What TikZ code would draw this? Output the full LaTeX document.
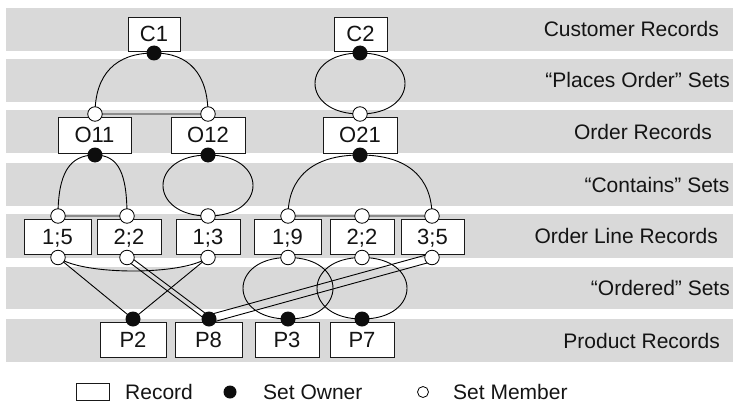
\documentclass[tikz,border=0pt]{standalone}
\usepackage{fontspec}
\setmainfont{Liberation Sans}
\usetikzlibrary{calc}
\pgfdeclarelayer{bands}
\pgfdeclarelayer{links}
\pgfsetlayers{bands,links,main}

\begin{document}
\begin{tikzpicture}[x=1pt,y=-1pt,
  band/.style={fill=black!15},
  record/.style={draw=black!90, fill=white, line width=0.9pt, inner sep=0pt,
    text height=15.5pt, text depth=0pt, text=black!92,
    font=\fontsize{22}{25}\selectfont},
  owner/.style={circle, fill=black!95, inner sep=0pt, minimum size=15pt},
  member/.style={circle, draw=black, fill=white, line width=0.8pt, inner sep=0pt, minimum size=14.5pt},
  link/.style={line width=0.9pt},
  tier/.style={anchor=base east, inner sep=0pt, text=black!92,
    font=\fontsize{21}{24}\selectfont},
  legendtext/.style={anchor=base west, inner sep=0pt, text=black!92,
    font=\fontsize{21}{24}\selectfont},
  ]
\useasboundingbox (0,0) rectangle (733,404);

% grey bands, one per tier
\begin{pgfonlayer}{bands}
  \foreach \t/\b in {8/51,59/102,110/153,163/206,214/258,267/309,319/362}
    \fill[band] (6,\t) rectangle (733,\b);
\end{pgfonlayer}

% tier labels
\node[tier] (t1) at (719,37) {Customer Records};
\node[tier] (t2) at (730,88) {“Places Order” Sets};
\node[tier] (t3) at (712,139) {Order Records};
\node[tier] (t4) at (729.5,192) {“Contains” Sets};
\node[tier] (t5) at (718,243.5) {Order Line Records};
\node[tier] (t6) at (730,295.5) {“Ordered” Sets};
\node[tier] (t7) at (720,348) {Product Records};

% customer records
\node[record, minimum width=52pt, minimum height=34pt] (c1) at (154,34) {C1};
\node[record, minimum width=53pt, minimum height=34pt] (c2) at (360.5,34) {C2};
% order records
\node[record, minimum width=73pt, minimum height=36pt] (o11) at (94.5,135) {O11};
\node[record, minimum width=74pt, minimum height=36pt] (o12) at (208,135) {O12};
\node[record, minimum width=74pt, minimum height=36pt] (o21) at (360,135) {O21};
% order line records
\node[record, minimum width=67pt, minimum height=35pt] (l15) at (57.5,236.5) {1;5};
\node[record, minimum width=64pt, minimum height=35pt] (l22) at (129,236.5) {2;2};
\node[record, minimum width=64pt, minimum height=35pt] (l13) at (208,236.5) {1;3};
\node[record, minimum width=67pt, minimum height=35pt] (l19) at (287.5,236.5) {1;9};
\node[record, minimum width=64pt, minimum height=35pt] (l22b) at (362,236.5) {2;2};
\node[record, minimum width=63pt, minimum height=35pt] (l35) at (432.5,236.5) {3;5};
% product records
\node[record, minimum width=66pt, minimum height=35pt] (p2) at (133,339.5) {P2};
\node[record, minimum width=67pt, minimum height=35pt] (p8) at (208.5,339.5) {P8};
\node[record, minimum width=64pt, minimum height=35pt] (p3) at (287,339.5) {P3};
\node[record, minimum width=64pt, minimum height=35pt] (p7) at (362,339.5) {P7};

% set owners
\node[owner] (c1o) at (154,53) {};
\node[owner] (c2o) at (360,53) {};
\node[owner] (o11o) at (95,155) {};
\node[owner] (o12o) at (208,155) {};
\node[owner] (o21o) at (360,155) {};
\node[owner] (p2o) at (133,319) {};
\node[owner] (p8o) at (209,319) {};
\node[owner] (p3o) at (288,319) {};
\node[owner] (p7o) at (362,319) {};

% set members
\node[member] (o11m) at (95,114) {};
\node[member] (o12m) at (208,114) {};
\node[member] (o21m) at (360,114) {};
\node[member] (l15t) at (58,216) {};
\node[member] (l22t) at (127,216) {};
\node[member] (l13t) at (208,216) {};
\node[member] (l19t) at (288,216) {};
\node[member] (l22bt) at (362,216) {};
\node[member] (l35t) at (432,216) {};
\node[member] (l15m) at (58,257.5) {};
\node[member] (l22m) at (127,257.5) {};
\node[member] (l13m) at (208,257.5) {};
\node[member] (l19m) at (288,257.5) {};
\node[member] (l22bm) at (362,257.5) {};
\node[member] (l35m) at (432,257.5) {};

% set rings
\begin{pgfonlayer}{links}
  % "Places Order"
  \draw[link] (c1o.center) .. controls +(-38,0) and +(0,-40) .. (o11m.center)
    -- (o12m.center) .. controls +(0,-40) and +(35,0) .. (c1o.center);
  \draw[link] (c2o.center) .. controls +(-60,0) and +(-60,0) .. (o21m.center)
    .. controls +(60,0) and +(60,0) .. (c2o.center);
  % "Contains"
  \draw[link] (o11o.center) .. controls +(-26,0) and +(0,-42) .. (l15t.center)
    -- (l22t.center) .. controls +(0,-42) and +(24,0) .. (o11o.center);
  \draw[link] (o12o.center) .. controls +(-60,0) and +(-60,0) .. (l13t.center)
    .. controls +(60,0) and +(60,0) .. (o12o.center);
  \draw[link] (o21o.center) .. controls +(-48,0) and +(0,-38) .. (l19t.center)
    -- (l22bt.center) -- (l35t.center) .. controls +(0,-38) and +(48,0) .. (o21o.center);
  % "Ordered"
  \draw[link] (p2o.center) -- (l15m.center) .. controls +(25,18) and +(-25,18) .. (l13m.center)
    -- (p2o.center);
  \draw[link] ($(l22m.center)!2.4pt!90:(p8o.center)$) -- ($(p8o.center)!2.4pt!-90:(l22m.center)$);
  \draw[link] ($(l22m.center)!2.4pt!-90:(p8o.center)$) -- ($(p8o.center)!2.4pt!90:(l22m.center)$);
  \draw[link] ($(l35m.center)!4pt!90:(p8o.center)$) -- ($(p8o.center)!4pt!-90:(l35m.center)$);
  \draw[link] ($(l35m.center)!4pt!-90:(p8o.center)$) -- ($(p8o.center)!4pt!90:(l35m.center)$);
  \draw[link] (l19m.center) .. controls +(-60,0) and +(-60,0) .. (p3o.center)
    .. controls +(60,0) and +(60,0) .. (l19m.center);
  \draw[link] (l22bm.center) .. controls +(-60,0) and +(-60,0) .. (p7o.center)
    .. controls +(60,0) and +(60,0) .. (l22bm.center);
\end{pgfonlayer}

% legend
\node[record, minimum width=33pt, minimum height=17pt] (lgrec) at (92.5,391.5) {};
\node[legendtext] (lgrect) at (125,399) {Record};
\node[owner, minimum size=13pt] (lgown) at (230,392) {};
\node[legendtext] (lgownt) at (263,399) {Set Owner};
\node[member, minimum size=11pt] (lgmem) at (423,392) {};
\node[legendtext] (lgmemt) at (453,399) {Set Member};
\end{tikzpicture}
\end{document}
